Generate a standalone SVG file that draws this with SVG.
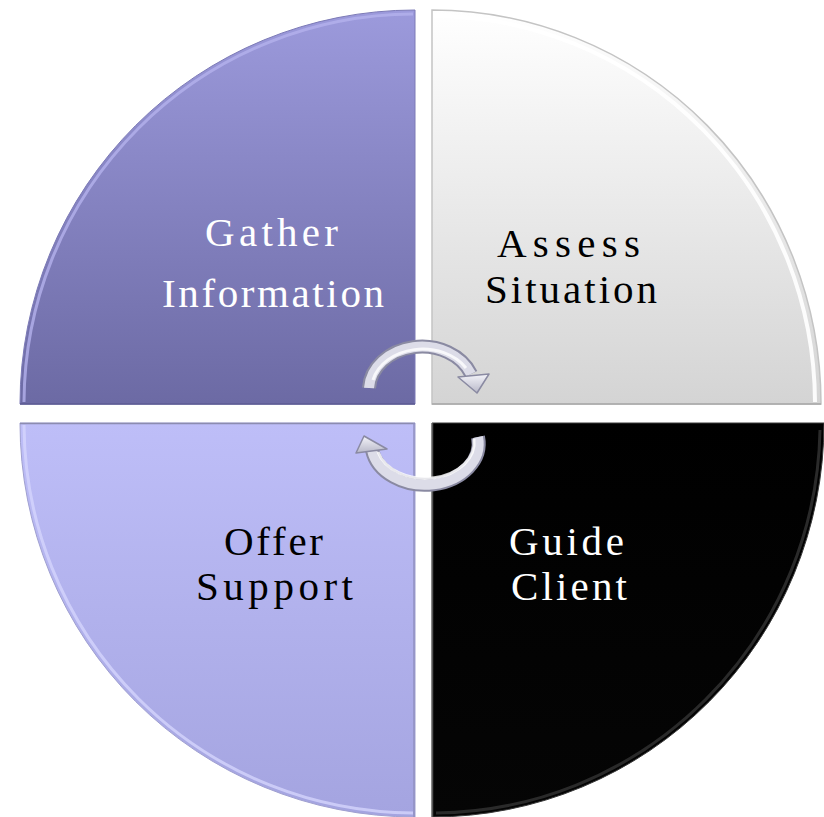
<svg xmlns="http://www.w3.org/2000/svg" width="824" height="817" viewBox="0 0 824 817">
  <defs>
    <linearGradient id="gTL" x1="0" y1="0" x2="0" y2="1">
      <stop offset="0" stop-color="#9c9adc"/>
      <stop offset="1" stop-color="#6c6aa4"/>
    </linearGradient>
    <linearGradient id="gTR" x1="0" y1="0" x2="0" y2="1">
      <stop offset="0" stop-color="#ffffff"/>
      <stop offset="1" stop-color="#d4d4d4"/>
    </linearGradient>
    <linearGradient id="gBL" x1="0" y1="0" x2="0" y2="1">
      <stop offset="0" stop-color="#bebef8"/>
      <stop offset="1" stop-color="#a4a4e0"/>
    </linearGradient>
    <linearGradient id="gBR" x1="0" y1="0" x2="0" y2="1">
      <stop offset="0" stop-color="#000000"/>
      <stop offset="1" stop-color="#050505"/>
    </linearGradient>
    <linearGradient id="gArrow" x1="0" y1="0" x2="0" y2="1">
      <stop offset="0" stop-color="#f4f4fa"/>
      <stop offset="1" stop-color="#b8b8c8"/>
    </linearGradient>
    <style>
      .lbl { font-family: "Liberation Serif", "Times New Roman", serif; font-size: 41px; }
      .w { fill: #ffffff; }
      .k { fill: #000000; }
      .arcOut { fill: none; stroke: #8a8aa2; stroke-width: 14; }
      .arcIn { fill: none; stroke: #dcdce8; stroke-width: 10; }
      .arcHi { fill: none; stroke: #ffffff; stroke-width: 3; opacity: 0.8; }
      .head { fill: url(#gArrow); stroke: #8a8aa2; stroke-width: 1.5; stroke-linejoin: round; }
    </style>
  </defs>
  <rect x="0" y="0" width="824" height="817" fill="#ffffff"/>

  <g id="gather-information">
    <path d="M415,404 L415,10 A395,394 0 0 0 20,404 Z" fill="url(#gTL)" stroke="#7c7ab6" stroke-width="1"/>
    <path d="M413,14 A391,390 0 0 0 24,402" fill="none" stroke="#b4b2ec" stroke-width="3" opacity="0.8"/>
    <line x1="20" y1="404" x2="415" y2="404" stroke="#5a5890" stroke-width="1.5"/>
    <text class="lbl w" x="205" y="246" textLength="133" lengthAdjust="spacing">Gather</text>
    <text class="lbl w" x="162" y="307" textLength="222" lengthAdjust="spacing">Information</text>
  </g>

  <g id="assess-situation">
    <path d="M432,404 L432,10 A389,394 0 0 1 821,404 Z" fill="url(#gTR)" stroke="#c4c4c4" stroke-width="1.5"/>
    <path d="M434,16 A383,388 0 0 1 815,402" fill="none" stroke="#ffffff" stroke-width="4" opacity="0.9"/>
    <line x1="432" y1="404" x2="821" y2="404" stroke="#a8a8a8" stroke-width="1.5"/>
    <text class="lbl k" x="497" y="257" textLength="143" lengthAdjust="spacing">Assess</text>
    <text class="lbl k" x="485" y="303" textLength="172" lengthAdjust="spacing">Situation</text>
  </g>

  <g id="offer-support">
    <path d="M415,423 L20,423 A395,394 0 0 0 415,817 Z" fill="url(#gBL)" stroke="#a0a0d0" stroke-width="1"/>
    <path d="M24,425 A391,390 0 0 0 413,813" fill="none" stroke="#d4d4fc" stroke-width="3" opacity="0.8"/>
    <line x1="20" y1="423.5" x2="415" y2="423.5" stroke="#8c8cb0" stroke-width="1.5"/>
    <line x1="414" y1="423" x2="414" y2="817" stroke="#9090c0" stroke-width="1.5"/>
    <text class="lbl k" x="224" y="555" textLength="99" lengthAdjust="spacing">Offer</text>
    <text class="lbl k" x="196" y="600" textLength="157" lengthAdjust="spacing">Support</text>
  </g>

  <g id="guide-client">
    <path d="M432,423 L824,423 A392,394 0 0 1 432,817 Z" fill="url(#gBR)" stroke="#3a3a3a" stroke-width="1"/>
    <path d="M820,430 A388,390 0 0 1 436,813" fill="none" stroke="#2a2a2a" stroke-width="3"/>
    <line x1="432.5" y1="423" x2="432.5" y2="817" stroke="#555555" stroke-width="1.5"/>
    <text class="lbl w" x="509" y="555" textLength="115" lengthAdjust="spacing">Guide</text>
    <text class="lbl w" x="511" y="600" textLength="116" lengthAdjust="spacing">Client</text>
  </g>

  <g id="connectors">
    <path class="arcOut" d="M369,388 A53,44 0 0 1 471,374"/>
    <path class="arcIn" d="M369,388 A53,44 0 0 1 471,374"/>
    <path class="arcHi" d="M373,380 A51,40 0 0 1 466,368"/>
    <polygon class="head" points="458,377 489,374 477,393"/>

    <path class="arcOut" d="M478,437 A52,40 0 0 1 372,450"/>
    <path class="arcIn" d="M478,437 A52,40 0 0 1 372,450"/>
    <path class="arcHi" d="M474,439 A49,36 0 0 1 378,452"/>
    <polygon class="head" points="356,453 387,449 364,436"/>
  </g>
</svg>
